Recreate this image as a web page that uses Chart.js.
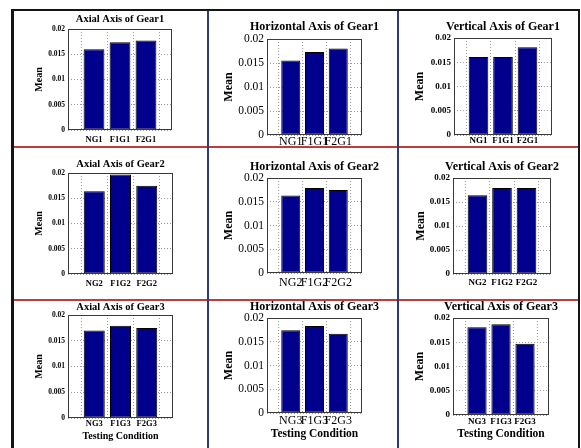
<!DOCTYPE html>
<html>
<head>
<meta charset="utf-8">
<script src="https://cdn.jsdelivr.net/npm/chart.js@4"></script>
<style>
  html, body { margin: 0; padding: 0; background: #fff; }
  #sheet { position: relative; width: 581px; height: 448px; overflow: hidden; background: #fff; }
  #sheet canvas { position: absolute; z-index: 1; }
  .rule { position: absolute; z-index: 2; }
</style>
</head>
<body>
<div id="sheet"></div>
<script>
// ---- data -------------------------------------------------------------
const axisNames = ['Axial', 'Horizontal', 'Vertical'];
const gearNames = ['Gear1', 'Gear2', 'Gear3'];

const gear1Conditions = ['NG1', 'F1G1', 'F2G1'];
const gear2Conditions = ['NG2', 'F1G2', 'F2G2'];
const gear3Conditions = ['NG3', 'F1G3', 'F2G3'];

const gear1Axial      = [0.0160, 0.0174, 0.0177];
const gear1Horizontal = [0.0155, 0.0173, 0.0180];
const gear1Vertical   = [0.0161, 0.0161, 0.0181];

const gear2Axial      = [0.0164, 0.0197, 0.0175];
const gear2Horizontal = [0.0163, 0.0179, 0.0175];
const gear2Vertical   = [0.0164, 0.0179, 0.0179];

const gear3Axial      = [0.0170, 0.0179, 0.0175];
const gear3Horizontal = [0.0174, 0.0183, 0.0167];
const gear3Vertical   = [0.0181, 0.0187, 0.0147];

const meanTickValues = [0, 0.005, 0.01, 0.015, 0.02];
const meanTickLabels = ['0', '0.005', '0.01', '0.015', '0.02'];

const yAxisTitle = 'Mean';
const xAxisTitle = 'Testing Condition';

// ---- layout -------------------------------------------------------------
const FONT = '"Liberation Serif", "Times New Roman", serif';
Chart.defaults.font.family = FONT;

// typography per column (axial / horizontal / vertical)
const styles = [
  { title: 10.5, yTick: 7.5, yTickWeight: 'bold', xTick: 8.5, xTickWeight: 'bold', mean: 10, xTitle: 10 },
  { title: 12, yTick: 11.5, yTickWeight: 'normal', xTick: 12, xTickWeight: 'normal', mean: 12, xTitle: 11.5 },
  { title: 12, yTick: 9, yTickWeight: 'bold', xTick: 9, xTickWeight: 'bold', mean: 12, xTitle: 11.5 }
];

// canvas cells (left edge, top edge, height)
const cols = [{ x: 14 }, { x: 209 }, { x: 399 }];
const rows = [{ y: 8, h: 140 }, { y: 146, h: 156 }, { y: 298, h: 150 }];

// plot boxes and label positions, page coordinates
const frames = [
  [ { l: 68, t: 29, r: 172, b: 130, titleY: 19, meanX: 39, xlabY: 140 },
    { l: 267, t: 39, r: 362, b: 135, titleY: 27, meanX: 229, xlabY: 142 },
    { l: 454, t: 38, r: 552, b: 135, titleY: 27, meanX: 420, xlabY: 141 } ],
  [ { l: 68, t: 173, r: 173, b: 274, titleY: 164, meanX: 39, xlabY: 284 },
    { l: 267, t: 178, r: 362, b: 273, titleY: 167, meanX: 229, xlabY: 283 },
    { l: 453, t: 178, r: 551, b: 274, titleY: 167, meanX: 421, xlabY: 283 } ],
  [ { l: 68, t: 315, r: 173, b: 418, titleY: 307, meanX: 39, xlabY: 424, xTitleY: 436 },
    { l: 267, t: 318, r: 362, b: 413, titleY: 306.5, meanX: 229, xlabY: 421, xTitleY: 434 },
    { l: 453, t: 318, r: 549, b: 415, titleY: 307, meanX: 420, xlabY: 422, xTitleY: 434 } ]
];

const panelData = [
  { cats: gear1Conditions, series: [gear1Axial, gear1Horizontal, gear1Vertical] },
  { cats: gear2Conditions, series: [gear2Axial, gear2Horizontal, gear2Vertical] },
  { cats: gear3Conditions, series: [gear3Axial, gear3Horizontal, gear3Vertical] }
];

// plot box outline drawn over the bars
const plotBox = {
  id: 'plotBox',
  afterDatasetsDraw(chart) {
    const { ctx, chartArea: a } = chart;
    ctx.save();
    ctx.strokeStyle = '#3a3a3a';
    ctx.lineWidth = 1;
    ctx.strokeRect(a.left + 0.5, a.top + 0.5, a.right - a.left - 1, a.bottom - a.top - 1);
    ctx.restore();
  }
};

const sheet = document.getElementById('sheet');

function makePanel(row, col) {
  const f = frames[row][col];
  const st = styles[col];
  const cats = panelData[row].cats;
  const values = panelData[row].series[col];

  const leftW = f.l - cols[col].x;             // y-axis box width
  // canvas is symmetric about the plot so the title centres over it
  const cell = { x: cols[col].x, y: rows[row].y, w: 2 * leftW + (f.r - f.l), h: rows[row].h };

  const canvas = document.createElement('canvas');
  canvas.width = cell.w;
  canvas.height = cell.h;
  canvas.style.left = cell.x + 'px';
  canvas.style.top = cell.y + 'px';
  canvas.style.width = cell.w + 'px';
  canvas.style.height = cell.h + 'px';
  sheet.appendChild(canvas);

  const bottomH = cell.y + cell.h - f.b;       // x-axis box height
  const topH = f.t - cell.y;                   // title block height
  const titleTop = f.titleY - cell.y - st.title / 2;
  const titleBottom = topH - titleTop - st.title;
  const hasXTitle = row === 2;

  new Chart(canvas, {
    type: 'bar',
    data: {
      datasets: [{
        data: values.map((v, i) => ({ x: i + 1, y: v })),
        backgroundColor: '#00008c',
        borderColor: '#000000',
        borderWidth: 1,
        borderSkipped: false,
        barPercentage: 0.8,
        categoryPercentage: 1
      }]
    },
    options: {
      responsive: false,
      animation: false,
      devicePixelRatio: 1,
      layout: { padding: 0 },
      plugins: {
        legend: { display: false },
        tooltip: { enabled: false },
        title: {
          display: true,
          text: axisNames[col] + ' Axis of ' + gearNames[row],
          color: '#000',
          fullSize: true,
          font: { family: FONT, size: st.title, weight: 'bold', lineHeight: 1 },
          padding: { top: titleTop, bottom: titleBottom }
        }
      },
      scales: {
        x: {
          type: 'linear',
          min: 0,
          max: cats.length + 1,
          offset: false,
          afterBuildTicks: s => { s.ticks = cats.map((c, i) => ({ value: i + 1 })); },
          afterFit: s => { s.height = bottomH; },
          ticks: {
            autoSkip: false,
            maxRotation: 0,
            minRotation: 0,
            color: '#000',
            padding: f.xlabY - f.b - st.xTick / 2,
            font: { family: FONT, size: st.xTick, weight: st.xTickWeight, lineHeight: 1 },
            callback: (v, i) => cats[i]
          },
          grid: { color: '#9a9a9a', lineWidth: 1, drawTicks: false },
          border: { display: false, dash: [1, 2] },
          title: {
            display: hasXTitle,
            text: xAxisTitle,
            color: '#000',
            font: { family: FONT, size: st.xTitle, weight: 'bold', lineHeight: 1 },
            padding: { top: 0, bottom: hasXTitle ? (cell.y + cell.h - f.xTitleY - st.xTitle / 2) : 0 }
          }
        },
        y: {
          type: 'linear',
          position: 'left',
          min: meanTickValues[0],
          max: meanTickValues[meanTickValues.length - 1],
          afterBuildTicks: s => { s.ticks = meanTickValues.map(v => ({ value: v })); },
          afterFit: s => { s.width = leftW; },
          ticks: {
            color: '#000',
            padding: 3,
            font: { family: FONT, size: st.yTick, weight: st.yTickWeight, lineHeight: 1 },
            callback: (v, i) => meanTickLabels[i]
          },
          grid: { color: '#9a9a9a', lineWidth: 1, drawTicks: false },
          border: { display: false, dash: [1, 2] },
          title: {
            display: true,
            text: yAxisTitle,
            color: '#000',
            font: { family: FONT, size: st.mean, weight: 'bold', lineHeight: 1 },
            padding: { top: f.meanX - cell.x - st.mean / 2, bottom: 0 }
          }
        },
        // empty right-hand box balancing the y-axis width
        spacer: {
          type: 'linear',
          position: 'right',
          display: true,
          afterFit: s => { s.width = leftW; },
          ticks: { display: false },
          grid: { display: false, drawTicks: false },
          border: { display: false }
        }
      }
    },
    plugins: [plotBox]
  });
}

for (let r = 0; r < 3; r++) {
  for (let c = 0; c < 3; c++) makePanel(r, c);
}

// table rules around and between the panels
function rule(x, y, w, h, color) {
  const d = document.createElement('div');
  d.className = 'rule';
  d.style.left = x + 'px';
  d.style.top = y + 'px';
  d.style.width = w + 'px';
  d.style.height = h + 'px';
  d.style.background = color;
  sheet.appendChild(d);
}
rule(14, 146, 564, 2, '#c23b3b');
rule(14, 299, 564, 2, '#c23b3b');
rule(207, 11, 2, 437, '#2f3a78');
rule(397, 11, 2, 437, '#2f3a78');
rule(11, 9, 569, 2, '#151515');
rule(11, 9, 3, 439, '#151515');
rule(578, 9, 2, 439, '#151515');
</script>
</body>
</html>
